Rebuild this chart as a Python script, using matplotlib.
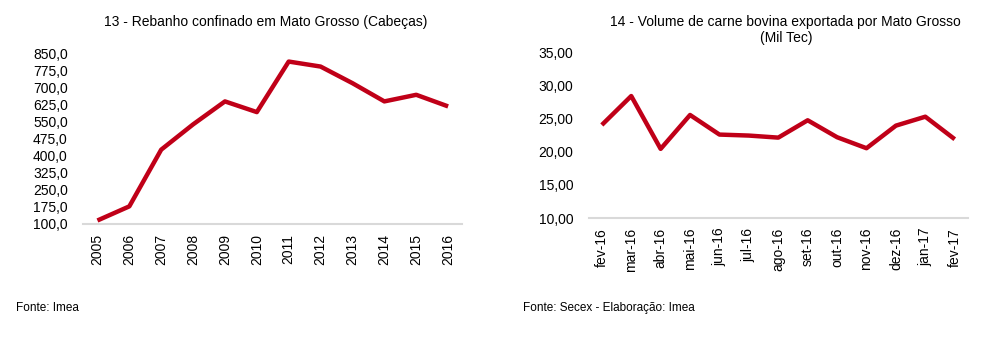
import matplotlib.pyplot as plt
from matplotlib.ticker import FuncFormatter

plt.rcParams['font.family'] = ['Liberation Sans', 'DejaVu Sans']
plt.rcParams['font.size'] = 10

anos = ['2005', '2006', '2007', '2008', '2009', '2010', '2011', '2012',
        '2013', '2014', '2015', '2016']
rebanho = [115, 177, 426, 537, 638, 591, 813, 791, 718, 638, 667, 616]

meses = ['fev-16', 'mar-16', 'abr-16', 'mai-16', 'jun-16', 'jul-16', 'ago-16',
         'set-16', 'out-16', 'nov-16', 'dez-16', 'jan-17', 'fev-17']
volume = [24.05, 28.42, 20.44, 25.56, 22.6, 22.45, 22.14, 24.76, 22.2,
          20.54, 23.95, 25.3, 21.9]

red = '#c00018'
grid_gray = '#d9d9d9'

fig = plt.figure(figsize=(10.01, 3.45), dpi=100)
ax1 = fig.add_axes([0.083, 0.351, 0.379, 0.495])
ax2 = fig.add_axes([0.588, 0.368, 0.379, 0.480])


def style(ax):
    for s in ['top', 'right', 'left']:
        ax.spines[s].set_visible(False)
    ax.spines['bottom'].set_color(grid_gray)
    ax.spines['bottom'].set_linewidth(1.5)
    ax.tick_params(axis='both', length=0, labelsize=10)
    ax.tick_params(axis='x', rotation=90, pad=7)
    ax.tick_params(axis='y', pad=11)


ax1.plot(range(len(anos)), rebanho, color=red, lw=3.2, solid_capstyle='butt')
ax1.set_xticks(range(len(anos)))
ax1.set_xticklabels(anos)
ax1.set_xlim(-0.45, len(anos) - 0.55)
ax1.set_ylim(100, 850)
ax1.set_yticks([100, 175, 250, 325, 400, 475, 550, 625, 700, 775, 850])
ax1.yaxis.set_major_formatter(FuncFormatter(lambda v, p: f'{v:.1f}'.replace('.', ',')))
style(ax1)

ax2.plot(range(len(meses)), volume, color=red, lw=3.2, solid_capstyle='butt')
ax2.set_xticks(range(len(meses)))
ax2.set_xticklabels(meses)
ax2.set_xlim(-0.45, len(meses) - 0.55)
ax2.set_ylim(10, 35)
ax2.set_yticks([10, 15, 20, 25, 30, 35])
ax2.yaxis.set_major_formatter(FuncFormatter(lambda v, p: f'{v:.2f}'.replace('.', ',')))
style(ax2)

fig.text(0.265, 0.936, '13 - Rebanho confinado em Mato Grosso (Cabeças)',
         ha='center', va='center', fontsize=10)
fig.text(0.785, 0.913, '14 - Volume de carne bovina exportada por Mato Grosso\n(Mil Tec)',
         ha='center', va='center', fontsize=10, linespacing=1.1)

fig.text(0.016, 0.108, 'Fonte: Imea', ha='left', va='center', fontsize=8.5)
fig.text(0.522, 0.108, 'Fonte: Secex - Elaboração: Imea', ha='left', va='center', fontsize=8.5)

fig.savefig('out.png', dpi=100)
